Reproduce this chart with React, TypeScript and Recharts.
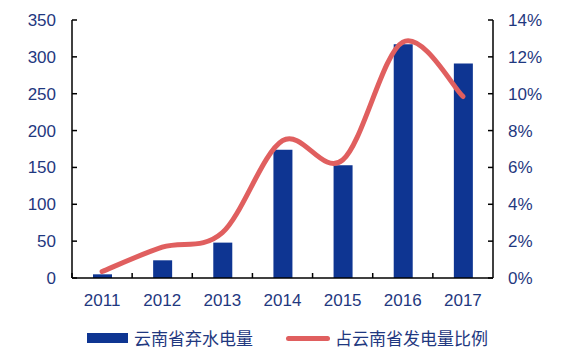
import React from 'react';
import { ComposedChart, Bar, Line, XAxis, YAxis, Legend } from 'recharts';

const years = ['2011', '2012', '2013', '2014', '2015', '2016', '2017'];
const curtailment = [5, 24, 48, 174, 153, 317, 291];
const ratioPct = [0.35, 1.67, 2.46, 7.45, 6.4, 12.8, 9.85];
const leftTicks = [0, 50, 100, 150, 200, 250, 300, 350];
const rightTicks = [0, 2, 4, 6, 8, 10, 12, 14];
const barName = '云南省弃水电量';
const lineName = '占云南省发电量比例';

const data = years.map((y, i) => ({ year: y, value: curtailment[i], ratio: ratioPct[i] }));

const TEXT = '#1F3880';
const BAR = '#0E3592';
const LINE = '#E05F5F';
const FONT = '"Liberation Sans", Arial, sans-serif';
const CJK = '"Noto Sans CJK SC", sans-serif';

function catmullRom(context: any) {
  let pts: [number, number][] = [];
  return {
    areaStart() {},
    areaEnd() {},
    lineStart() {
      pts = [];
    },
    lineEnd() {
      const n = pts.length;
      if (!n) return;
      context.moveTo(pts[0][0], pts[0][1]);
      for (let i = 0; i < n - 1; i++) {
        const p0 = pts[Math.max(i - 1, 0)];
        const p1 = pts[i];
        const p2 = pts[i + 1];
        const p3 = pts[Math.min(i + 2, n - 1)];
        context.bezierCurveTo(
          p1[0] + (p2[0] - p0[0]) / 6,
          p1[1] + (p2[1] - p0[1]) / 6,
          p2[0] - (p3[0] - p1[0]) / 6,
          p2[1] - (p3[1] - p1[1]) / 6,
          p2[0],
          p2[1]
        );
      }
    },
    point(x: number, y: number) {
      pts.push([x, y]);
    },
  };
}

const XTick = (props: any) => {
  const { x, y, payload, width } = props;
  const bw = (width || 420) / years.length;
  const axisY = y - 16;
  return (
    <g>
      <line x1={x - bw / 2} x2={x - bw / 2} y1={axisY} y2={axisY - 5} stroke="#000" strokeWidth={1.5} />
      <text x={x} y={y} dy="0.71em" textAnchor="middle" fill={TEXT} fontSize={17} fontFamily={FONT}>
        {payload.value}
      </text>
    </g>
  );
};

const LegendContent = () => (
  <div style={{ position: 'relative', width: 561, height: 39, fontFamily: CJK, fontSize: 17, color: TEXT }}>
    <div style={{ position: 'absolute', left: 87, top: 15, width: 41, height: 10, background: BAR }} />
    <div style={{ position: 'absolute', left: 134, top: 7, lineHeight: '26px', whiteSpace: 'nowrap' }}>{barName}</div>
    <div style={{ position: 'absolute', left: 286, top: 17.5, width: 44, height: 5, borderRadius: 3, background: LINE }} />
    <div style={{ position: 'absolute', left: 335, top: 7, lineHeight: '26px', whiteSpace: 'nowrap' }}>{lineName}</div>
  </div>
);

export default function App() {
  return (
    <div style={{ position: 'absolute', left: 0, top: 0, background: '#fff' }}>
      <ComposedChart width={561} height={357} data={data} margin={{ top: 20, right: 0, left: 0, bottom: 0 }}>
        <XAxis
          dataKey="year"
          height={40}
          axisLine={{ stroke: '#000', strokeWidth: 1.5 }}
          tickLine={false}
          tickSize={0}
          tickMargin={16}
          tick={<XTick />}
          interval={0}
        />
        <YAxis
          yAxisId="left"
          orientation="left"
          width={72}
          domain={[0, 350]}
          ticks={leftTicks}
          interval={0}
          axisLine={{ stroke: '#000', strokeWidth: 1.5 }}
          tickLine={{ stroke: '#000', strokeWidth: 1.5 }}
          tickSize={-5}
          tickMargin={21}
          tick={{ fill: TEXT, fontSize: 17, fontFamily: FONT }}
        />
        <YAxis
          yAxisId="right"
          orientation="right"
          width={68}
          domain={[0, 14]}
          ticks={rightTicks}
          interval={0}
          axisLine={{ stroke: '#000', strokeWidth: 1.5 }}
          tickLine={{ stroke: '#000', strokeWidth: 1.5 }}
          tickSize={-5}
          tickMargin={20}
          tickFormatter={(v: number) => `${v}%`}
          tick={{ fill: TEXT, fontSize: 17, fontFamily: FONT, textAnchor: 'start' }}
        />
        <Legend verticalAlign="bottom" content={<LegendContent />} wrapperStyle={{ left: 0, width: 561 }} />
        <Bar yAxisId="left" dataKey="value" name={barName} fill={BAR} barSize={19} isAnimationActive={false} />
        <Line
          yAxisId="right"
          dataKey="ratio"
          name={lineName}
          type={catmullRom as any}
          stroke={LINE}
          strokeWidth={5}
          strokeLinecap="round"
          dot={false}
          activeDot={false}
          isAnimationActive={false}
        />
      </ComposedChart>
    </div>
  );
}
